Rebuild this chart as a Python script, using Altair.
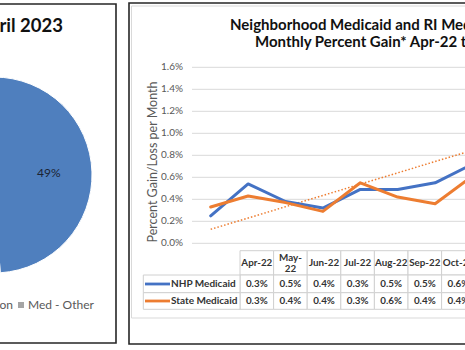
import altair as alt
import pandas as pd

# ---------------- data ----------------
months = ["Apr-22", "May-22", "Jun-22", "Jul-22", "Aug-22", "Sep-22", "Oct-22", "Nov-22"]
month_headers = ["Apr-22", "May-\n22", "Jun-22", "Jul-22", "Aug-22", "Sep-22", "Oct-22", "Nov-22"]
nhp_values = [0.25, 0.54, 0.38, 0.32, 0.49, 0.49, 0.55, 0.72]      # percent per month
state_values = [0.33, 0.43, 0.37, 0.29, 0.55, 0.42, 0.36, 0.61]    # percent per month
trend_index = [0, 7]
trend_values = [0.127, 0.846]
y_ticks = [0.0, 0.2, 0.4, 0.6, 0.8, 1.0, 1.2, 1.4, 1.6]
series_names = ["NHP Medicaid", "State Medicaid"]
series_colors = ["#4472C4", "#ED7D31"]

pie_labels = ["Med - Expansion", "Med - Other"]
pie_values = [49, 51]
pie_colors = ["#4F7FBE", "#A5A5A5"]

FONT = "Lato"
W, H = 465, 350

# ---------------- tables ----------------
lines_df = pd.DataFrame({
    "idx": list(range(len(months))) * 2,
    "month": months * 2,
    "series": [series_names[0]] * len(months) + [series_names[1]] * len(months),
    "value": nhp_values + state_values,
})
trend_df = pd.DataFrame({"idx": trend_index, "value": trend_values})
ticks_df = pd.DataFrame({"tick": y_ticks})
pie_df = pd.DataFrame({"label": pie_labels, "value": pie_values})
hdr_df = pd.DataFrame({"month": months, "header": month_headers})
one = pd.DataFrame({"a": [0]})

# ---------------- scales ----------------
x_line = alt.Scale(domain=[0, len(months) - 1], range=[210.7, 210.7 + 37.4 * (len(months) - 1)], nice=False, zero=False)
y_line = alt.Scale(domain=[0, 1.6], range=[243.3, 67.3], nice=False, zero=False)
x_tab = alt.Scale(domain=months, range=[240, 240 + 33.6 * len(months)], paddingInner=0, paddingOuter=0)
ser_color = alt.Scale(domain=series_names, range=series_colors)
pie_color = alt.Scale(domain=pie_labels, range=pie_colors)

layers = []

# panel frames
layers.append(alt.Chart(one).mark_rect(fill="white", stroke="#262626", strokeWidth=1.6).encode(
    x=alt.value(-5), x2=alt.value(116), y=alt.value(4), y2=alt.value(343)))
layers.append(alt.Chart(one).mark_rect(fill="white", stroke="#262626", strokeWidth=1.6).encode(
    x=alt.value(129), x2=alt.value(475), y=alt.value(3), y2=alt.value(344)))
layers.append(alt.Chart(one).mark_rect(fill="white", stroke="#D9D9D9", strokeWidth=1).encode(
    x=alt.value(131.5), x2=alt.value(475), y=alt.value(6), y2=alt.value(318)))

# ---------------- left panel: pie ----------------
PCX, PCY, PR = -6, 175, 98
layers.append(alt.Chart(pie_df).mark_arc(radius=PR, stroke="white", strokeWidth=1).encode(
    theta=alt.Theta("value:Q", stack=True),
    color=alt.Color("label:N", scale=pie_color, legend=None),
    order=alt.Order("label:N"),
    x=alt.value(PCX), y=alt.value(PCY),
))
layers.append(alt.Chart(pie_df).transform_calculate(txt="format(datum.value, 'd') + '%'").mark_text(
    radius=PR * 0.56, font=FONT, fontSize=12, color="#1B2333", baseline="middle", align="center"
).encode(
    theta=alt.Theta("value:Q", stack=True),
    detail="label:N",
    order=alt.Order("label:N"),
    x=alt.value(PCX), y=alt.value(PCY),
    text="txt:N",
))

layers.append(alt.Chart(one).mark_text(font=FONT, fontSize=18.5, fontWeight="bold", color="#111111",
                                       align="right", baseline="middle").encode(
    x=alt.value(63), y=alt.value(26), text=alt.value("April 2023")))

# pie legend
layers.append(alt.Chart(pd.DataFrame({"label": [pie_labels[0]]})).mark_text(
    font=FONT, fontSize=12, color="#595959", align="right", baseline="middle").encode(
    x=alt.value(13), y=alt.value(305), text="label:N"))
layers.append(alt.Chart(pd.DataFrame({"label": [pie_labels[1]]})).mark_square(size=36, opacity=1).encode(
    x=alt.value(21), y=alt.value(305),
    color=alt.Color("label:N", scale=pie_color, legend=None)))
layers.append(alt.Chart(pd.DataFrame({"label": [pie_labels[1]]})).mark_text(
    font=FONT, fontSize=12, color="#595959", align="left", baseline="middle").encode(
    x=alt.value(28), y=alt.value(305), text="label:N"))

# ---------------- right panel: line chart ----------------
layers.append(alt.Chart(one).mark_text(font=FONT, fontSize=15, fontWeight="bold", color="#111111",
                                       align="left", baseline="middle").encode(
    x=alt.value(230), y=alt.value(25), text=alt.value("Neighborhood Medicaid and RI Medicaid")))
layers.append(alt.Chart(one).mark_text(font=FONT, fontSize=15, fontWeight="bold", color="#111111",
                                       align="left", baseline="middle").encode(
    x=alt.value(255), y=alt.value(42), text=alt.value("Monthly Percent Gain* Apr-22 to Apr-23")))

layers.append(alt.Chart(ticks_df).mark_rule(color="#D9D9D9", strokeWidth=1).encode(
    y=alt.Y("tick:Q", scale=y_line, axis=None), x=alt.value(192), x2=alt.value(475)))
layers.append(alt.Chart(ticks_df).transform_calculate(lab="format(datum.tick, '.1f') + '%'").mark_text(
    font=FONT, fontSize=10, color="#595959", align="right", baseline="middle").encode(
    y=alt.Y("tick:Q", scale=y_line, axis=None), x=alt.value(183), text="lab:N"))
layers.append(alt.Chart(one).mark_text(font=FONT, fontSize=12.5, color="#595959", angle=270,
                                       align="center", baseline="middle").encode(
    x=alt.value(153), y=alt.value(162), text=alt.value("Percent Gain/Loss per Month")))

layers.append(alt.Chart(trend_df).mark_line(color=series_colors[1], strokeWidth=1.5, strokeDash=[1.5, 2]).encode(
    x=alt.X("idx:Q", scale=x_line, axis=None), y=alt.Y("value:Q", scale=y_line, axis=None)))
layers.append(alt.Chart(lines_df).mark_line(strokeWidth=3, strokeJoin="round", strokeCap="round").encode(
    x=alt.X("idx:Q", scale=x_line, axis=None), y=alt.Y("value:Q", scale=y_line, axis=None),
    color=alt.Color("series:N", scale=ser_color, legend=None),
    order=alt.Order("idx:Q")))

# ---------------- data table ----------------
TB = "#D0D0D0"
TXT = "#333333"
layers.append(alt.Chart(hdr_df).mark_rect(fill="white", stroke=TB, strokeWidth=1).encode(
    x=alt.X("month:N", scale=x_tab, axis=None), y=alt.value(250.7), y2=alt.value(275)))
for i, (y0, y1) in enumerate([(275, 292.7), (292.7, 309.3)]):
    layers.append(alt.Chart(hdr_df).mark_rect(fill="white", stroke=TB, strokeWidth=1).encode(
        x=alt.X("month:N", scale=x_tab, axis=None), y=alt.value(y0), y2=alt.value(y1)))
    layers.append(alt.Chart(one).mark_rect(fill="white", stroke=TB, strokeWidth=1).encode(
        x=alt.value(143.3), x2=alt.value(240), y=alt.value(y0), y2=alt.value(y1)))

# single-line headers centred in the row, wrapped ones start higher
layers.append(alt.Chart(hdr_df).transform_filter("indexof(datum.header, '\\n') < 0").mark_text(
    font=FONT, fontSize=9.8, fontWeight="bold", color=TXT, baseline="middle").encode(
    x=alt.X("month:N", scale=x_tab, axis=None), y=alt.value(263), text="header:N"))
layers.append(alt.Chart(hdr_df).transform_filter("indexof(datum.header, '\\n') >= 0").mark_text(
    font=FONT, fontSize=9.8, fontWeight="bold", color=TXT, baseline="middle",
    lineBreak="\n", lineHeight=11.7).encode(
    x=alt.X("month:N", scale=x_tab, axis=None), y=alt.value(257.5), text="header:N"))

for i, yc in enumerate([284, 301]):
    sub = lines_df[lines_df["series"] == series_names[i]]
    layers.append(alt.Chart(sub).transform_calculate(lab="format(datum.value, '.1f') + '%'").mark_text(
        font=FONT, fontSize=9.8, fontWeight="bold", color=TXT, baseline="middle").encode(
        x=alt.X("month:N", scale=x_tab, axis=None), y=alt.value(yc), text="lab:N"))
    key = pd.DataFrame({"series": [series_names[i]]})
    layers.append(alt.Chart(key).mark_rule(strokeWidth=2.8).encode(
        x=alt.value(145), x2=alt.value(170), y=alt.value(yc),
        color=alt.Color("series:N", scale=ser_color, legend=None)))
    layers.append(alt.Chart(key).mark_text(font=FONT, fontSize=10, fontWeight="bold", color=TXT,
                                           align="left", baseline="middle").encode(
        x=alt.value(171), y=alt.value(yc), text="series:N"))

chart = alt.layer(*layers).resolve_scale(
    x="independent", y="independent", color="independent", theta="independent"
).properties(
    width=W, height=H, padding=0, autosize=alt.AutoSizeParams(type="none"), background="white"
).configure_view(stroke=None)

chart.save("out.html", embed_options={"renderer": "svg", "actions": False})
